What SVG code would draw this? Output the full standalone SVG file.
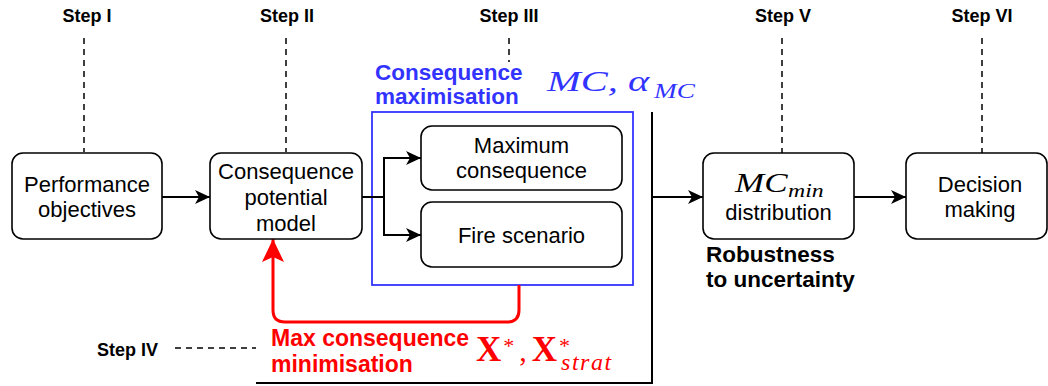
<svg xmlns="http://www.w3.org/2000/svg" width="1048" height="386" viewBox="0 0 1048 386">
<style>
.box{fill:#fff;stroke:#000;stroke-width:1.6}
.t{font-family:"Liberation Sans",Arial,sans-serif;font-size:22px;fill:#000;text-anchor:middle}
.step{font-family:"Liberation Sans",Arial,sans-serif;font-size:18px;font-weight:bold;fill:#000;text-anchor:middle}
.dash{stroke:#000;stroke-width:1.5;stroke-dasharray:6 5;fill:none}
.line{stroke:#000;stroke-width:2;fill:none}
.bt{font-family:"Liberation Sans",Arial,sans-serif;font-size:22.5px;font-weight:bold}
.math{font-family:"Liberation Serif","Times New Roman",serif;font-style:italic}
</style>
<defs>
<marker id="ah" markerUnits="userSpaceOnUse" markerWidth="16" markerHeight="14" refX="15" refY="7" orient="auto">
<path d="M0,0 L15,7 L0,14 L4,7 Z" fill="#000"/>
</marker>
<marker id="ahr" markerUnits="userSpaceOnUse" markerWidth="24" markerHeight="22" refX="23" refY="11" orient="auto">
<path d="M0,0 L23,11 L0,22 L5,11 Z" fill="#f00"/>
</marker>
</defs>
<rect width="1048" height="386" fill="#fff"/>

<g id="steps">
<text class="step" x="87" y="22">Step I</text>
<text class="step" x="287" y="22">Step II</text>
<text class="step" x="509" y="22">Step III</text>
<text class="step" x="783" y="22">Step V</text>
<text class="step" x="982" y="22">Step VI</text>
<text class="step" x="97" y="356" style="text-anchor:start">Step IV</text>
<line class="dash" x1="84" y1="38" x2="84" y2="152"/>
<line class="dash" x1="286" y1="38" x2="286" y2="152"/>
<line class="dash" x1="509" y1="38" x2="509" y2="62"/>
<line class="dash" x1="782" y1="38" x2="782" y2="153"/>
<line class="dash" x1="982" y1="38" x2="982" y2="153"/>
<line class="dash" x1="175" y1="348" x2="256" y2="348"/>
</g>

<g id="maximisation-group">
<rect x="372" y="112" width="261" height="173" fill="none" stroke="#3333ff" stroke-width="1.8"/>
<text class="bt" fill="#3333ff" x="375" y="80">Consequence</text>
<text class="bt" fill="#3333ff" x="375" y="104">maximisation</text>
<g fill="#3333ff" class="math">
<text transform="translate(547,91) scale(1.35,1)" font-size="30">MC, α</text>
<text transform="translate(654,98) scale(1.3,1)" font-size="21">MC</text>
</g>
</g>

<g id="connectors">
<line class="line" x1="162" y1="197" x2="210" y2="197" marker-end="url(#ah)"/>
<polyline class="line" points="362,197 384,197"/>
<polyline class="line" points="384,158 384,235"/>
<line class="line" x1="383" y1="158" x2="421" y2="158" marker-end="url(#ah)"/>
<line class="line" x1="383" y1="235" x2="421" y2="235" marker-end="url(#ah)"/>
<polyline class="line" points="652,112 652,383 256,383"/>
<line class="line" x1="652" y1="197" x2="703" y2="197" marker-end="url(#ah)"/>
<line class="line" x1="854" y1="197" x2="906" y2="197" marker-end="url(#ah)"/>
<path d="M519,285 V310 Q519,322 507,322 H285 Q273,322 273,310 V239" fill="none" stroke="#f00" stroke-width="3" marker-end="url(#ahr)"/>
</g>

<g id="performance-objectives">
<rect class="box" x="12" y="153" width="150" height="86" rx="11"/>
<text class="t" x="87" y="192">Performance</text>
<text class="t" x="87" y="217">objectives</text>
</g>

<g id="consequence-potential-model">
<rect class="box" x="210" y="153" width="152" height="86" rx="11"/>
<text class="t" x="286" y="179">Consequence</text>
<text class="t" x="286" y="205">potential</text>
<text class="t" x="286" y="231">model</text>
</g>

<g id="maximum-consequence">
<rect class="box" x="421" y="126" width="201" height="64" rx="11"/>
<text class="t" x="521.5" y="153">Maximum</text>
<text class="t" x="521.5" y="178">consequence</text>
</g>

<g id="fire-scenario">
<rect class="box" x="421" y="202" width="201" height="65" rx="11"/>
<text class="t" x="521.5" y="243">Fire scenario</text>
</g>

<g id="mcmin-distribution">
<rect class="box" x="703" y="153" width="151" height="86" rx="11"/>
<g class="math" fill="#000">
<text transform="translate(735,192) scale(1.25,1)" font-size="28">MC</text>
<text transform="translate(788,197) scale(1.25,1)" font-size="19">min</text>
</g>
<text class="t" x="778.5" y="220">distribution</text>
<text class="bt" fill="#000" x="706" y="262">Robustness</text>
<text class="bt" fill="#000" x="706" y="287">to uncertainty</text>
</g>

<g id="decision-making">
<rect class="box" x="906" y="153" width="141" height="86" rx="11"/>
<text class="t" x="980" y="192">Decision</text>
<text class="t" x="980" y="217">making</text>
</g>

<g id="minimisation-label">
<text class="bt" fill="#f00" x="271" y="346" style="font-size:23px">Max consequence</text>
<text class="bt" fill="#f00" x="271" y="372" style="font-size:23px">minimisation</text>
<text x="476" y="361" fill="#f00" font-family="Liberation Serif,'Times New Roman',serif"><tspan font-size="35" font-weight="bold">X</tspan><tspan font-size="22" dx="2" dy="-8">*</tspan><tspan font-size="30" dx="5" dy="8">,</tspan><tspan font-size="35" font-weight="bold" dx="5">X</tspan><tspan font-size="22" dx="2" dy="-8">*</tspan><tspan font-style="italic" font-size="24" dx="-9" dy="17" letter-spacing="1.5">strat</tspan></text>
</g>
</svg>
